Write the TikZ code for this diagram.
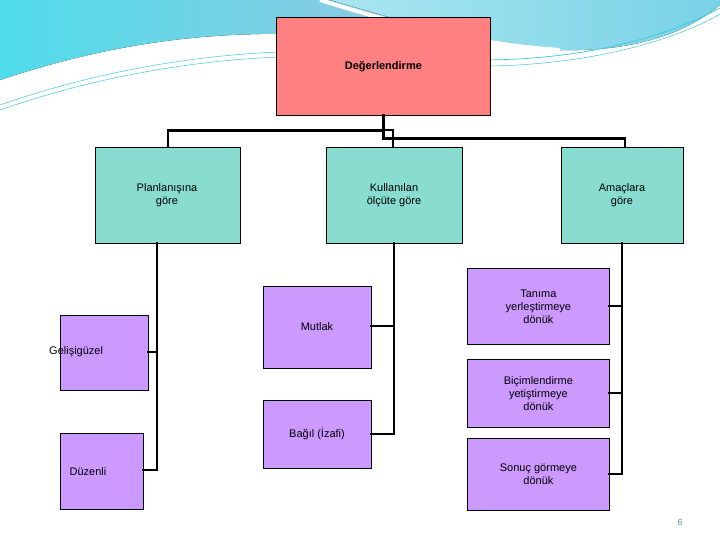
\documentclass[tikz,border=0pt]{standalone}
\usepackage{fontspec}
\setmainfont{Liberation Sans}
\definecolor{cred}{RGB}{255,128,128}
\definecolor{cteal}{RGB}{136,221,208}
\definecolor{cpurp}{RGB}{204,153,255}
\definecolor{wave1}{RGB}{80,220,235}
\definecolor{wave2}{RGB}{150,200,225}
\definecolor{wave3}{RGB}{170,230,240}
\definecolor{wave4}{RGB}{120,210,230}
\definecolor{wline}{RGB}{60,200,220}
\definecolor{pnum}{RGB}{70,160,180}
\begin{document}
\begin{tikzpicture}[x=1pt,y=-1pt,
  box/.style={draw=black,line width=0.8pt,anchor=north west,inner sep=0pt,align=center,font=\fontsize{11}{13}\selectfont},
  red/.style={box,fill=cred},
  teal/.style={box,fill=cteal},
  purp/.style={box,fill=cpurp},
  lbl/.style={align=center,font=\fontsize{11}{13}\selectfont},
  con/.style={line width=2.6pt,line cap=rect}]
\useasboundingbox (0,0) rectangle (720,540);
\fill[white] (0,0) rectangle (720,540);
% decorative waves
\fill[left color=wave1,right color=wave2]
  (0,0) -- (0,80) .. controls (120,40) and (220,30) .. (330,35) .. controls (380,38) and (420,40) .. (450,30) -- (450,0) -- cycle;
\fill[white] (0,100) .. controls (150,45) and (260,50) .. (300,52) .. controls (200,38) and (80,60) .. (0,90) -- cycle;
\fill[left color=wave3,right color=wave4]
  (330,0) .. controls (400,20) and (480,45) .. (560,50) .. controls (640,52) and (690,30) .. (720,5) -- (720,0) -- cycle;
\draw[white,line width=4pt] (320,0) .. controls (400,25) and (480,45) .. (560,50);
\draw[wline,line width=0.7pt] (480,60) .. controls (600,60) and (680,30) .. (720,8);
\draw[wline,line width=0.5pt] (490,66) .. controls (610,64) and (690,32) .. (720,14);
\draw[wline,line width=0.5pt] (0,105) .. controls (100,70) and (200,55) .. (280,52);
\draw[wline,line width=0.5pt] (0,110) .. controls (100,75) and (200,60) .. (280,57);
% boxes
\node[red,minimum width=214pt,minimum height=98pt] (d) at (276,17) {\textbf{Değerlendirme}};
\node[teal,minimum width=145pt,minimum height=96pt] (p) at (95,147) {};
\node[lbl] (pl) at (167,195) {Planlanışına\\göre};
\node[teal,minimum width=136pt,minimum height=96pt] (k) at (326,147) {};
\node[lbl] (kl) at (394,195) {Kullanılan\\ölçüte göre};
\node[teal,minimum width=122pt,minimum height=96pt] (a) at (561,147) {};
\node[lbl] (al) at (622,195) {Amaçlara\\göre};
\node[purp,minimum width=88pt,minimum height=75pt] (g) at (60,315) {};
\node[lbl,anchor=west,inner sep=0pt] (gl) at (49,352) {Gelişigüzel};
\node[purp,minimum width=83pt,minimum height=76pt] (z) at (60,433) {};
\node[lbl] (zl) at (88,472) {Düzenli};
\node[purp,minimum width=108pt,minimum height=82pt] (m) at (263,286) {};
\node[lbl] (ml) at (317,327) {Mutlak};
\node[purp,minimum width=108pt,minimum height=68pt] (b) at (263,400) {};
\node[lbl] (bl) at (317,434) {Bağıl (İzafi)};
\node[purp,minimum width=142pt,minimum height=76pt] (t) at (467,268) {Tanıma\\yerleştirmeye\\dönük};
\node[purp,minimum width=142pt,minimum height=68pt] (c) at (467,359) {Biçimlendirme\\yetiştirmeye\\dönük};
\node[purp,minimum width=142pt,minimum height=72pt] (s) at (467,438) {Sonuç görmeye\\dönük};
% connectors
\draw[con] (d.south) -- ++(0,15) -| (p.north);
\draw[con] (383,130) -| (393,147);
\draw[con] (d.south) -- ++(0,23) -| (625,147);
\draw[con] (157,243) -- (157,470) -- (143,470);
\draw[con] (157,352) -- (148,352);
\draw[con] (394,243) -- (394,434) -- (371,434);
\draw[con] (394,326) -- (371,326);
\draw[con] (622,243) -- (622,474) -- (609,474);
\draw[con] (622,306) -- (609,306);
\draw[con] (622,393) -- (609,393);
\node[font=\fontsize{9}{10}\selectfont,text=pnum] (pg) at (680,522) {6};
\end{tikzpicture}
\end{document}
